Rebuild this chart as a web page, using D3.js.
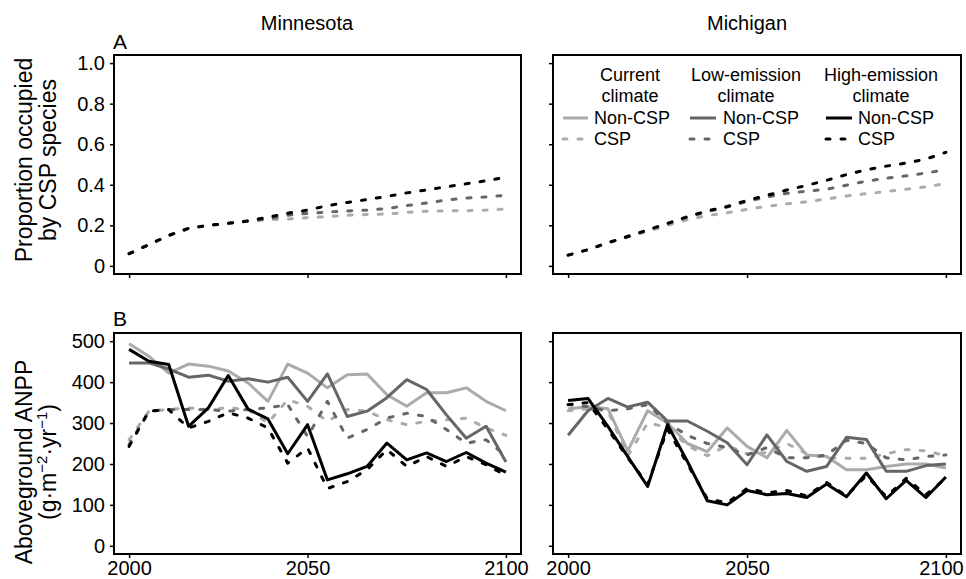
<!DOCTYPE html>
<html>
<head>
<meta charset="utf-8">
<script src="https://cdn.jsdelivr.net/npm/d3@7"></script>
<style>
  body { margin: 0; background: #fff; }
  svg text { font-family: "Liberation Sans", Arial, Helvetica, sans-serif; fill: #000; }
</style>
</head>
<body>
<svg id="chart" width="966" height="579"></svg>
<script>
// time steps (20 model steps), axis labelled at steps 1, 10 and 20
const timeSteps = [1, 2, 3, 4, 5, 6, 7, 8, 9, 10, 11, 12, 13, 14, 15, 16, 17, 18, 19, 20];
const xTickSteps = [1, 10, 20];
const xTickLabels = ["2000", "2050", "2100"];

const propTicks = [0, 0.2, 0.4, 0.6, 0.8, 1.0];
const propTickLabels = ["0", "0.2", "0.4", "0.6", "0.8", "1.0"];
const anppTicks = [0, 100, 200, 300, 400, 500];

const states = ["Minnesota", "Michigan"];
const climates = ["Current", "Low-emission", "High-emission"];

// A: proportion occupied by CSP species
const mnPropCurrent = [0.06, 0.105, 0.15, 0.185, 0.20, 0.21, 0.22, 0.228, 0.231, 0.238, 0.243, 0.25, 0.253, 0.256, 0.264, 0.27, 0.271, 0.272, 0.275, 0.28];
const mnPropLow     = [0.06, 0.105, 0.15, 0.185, 0.20, 0.21, 0.22, 0.232, 0.25, 0.259, 0.265, 0.271, 0.275, 0.283, 0.297, 0.31, 0.325, 0.334, 0.34, 0.348];
const mnPropHigh    = [0.06, 0.105, 0.15, 0.185, 0.20, 0.21, 0.222, 0.24, 0.26, 0.275, 0.297, 0.313, 0.327, 0.343, 0.36, 0.375, 0.39, 0.405, 0.42, 0.437];
const miPropCurrent = [0.053, 0.08, 0.113, 0.142, 0.17, 0.2, 0.228, 0.248, 0.262, 0.279, 0.294, 0.306, 0.316, 0.33, 0.345, 0.356, 0.367, 0.378, 0.39, 0.406];
const miPropLow     = [0.053, 0.08, 0.114, 0.145, 0.177, 0.207, 0.24, 0.268, 0.29, 0.318, 0.34, 0.358, 0.368, 0.378, 0.398, 0.418, 0.432, 0.444, 0.458, 0.475];
const miPropHigh    = [0.053, 0.08, 0.114, 0.145, 0.177, 0.21, 0.243, 0.271, 0.293, 0.323, 0.348, 0.374, 0.397, 0.422, 0.45, 0.474, 0.492, 0.507, 0.527, 0.56];

// B: aboveground ANPP
const mnAnppCurrentNon = [494, 463, 422, 444, 439, 427, 398, 353, 444, 422, 386, 418, 420, 369, 341, 374, 374, 386, 353, 330];
const mnAnppCurrentCsp = [259, 329, 333, 337, 333, 337, 333, 300, 357, 341, 304, 333, 329, 308, 296, 304, 308, 312, 288, 270];
const mnAnppLowNon     = [447, 447, 432, 412, 417, 402, 408, 400, 412, 353, 420, 316, 329, 362, 406, 382, 320, 263, 292, 205];
const mnAnppLowCsp     = [247, 329, 333, 333, 333, 329, 333, 337, 345, 267, 353, 263, 284, 312, 324, 316, 284, 251, 259, 220];
const mnAnppHighNon    = [480, 451, 443, 292, 337, 416, 334, 310, 225, 296, 161, 176, 194, 251, 210, 227, 206, 228, 202, 180];
const mnAnppHighCsp    = [243, 329, 333, 288, 304, 325, 312, 288, 202, 239, 140, 157, 186, 235, 194, 218, 194, 218, 198, 172];

const miAnppCurrentNon = [335, 340, 335, 232, 330, 300, 250, 230, 288, 243, 215, 282, 222, 218, 186, 186, 194, 200, 200, 190];
const miAnppCurrentCsp = [330, 335, 330, 220, 300, 290, 245, 220, 245, 225, 228, 250, 225, 215, 214, 214, 225, 235, 232, 220];
const miAnppLowNon     = [270, 330, 360, 339, 351, 305, 305, 280, 252, 198, 271, 206, 182, 194, 265, 260, 182, 182, 196, 200];
const miAnppLowCsp     = [345, 340, 330, 335, 345, 300, 270, 250, 240, 222, 240, 215, 215, 222, 258, 250, 215, 210, 218, 222];
const miAnppHighNon    = [355, 360, 292, 218, 145, 296, 206, 110, 100, 135, 125, 128, 118, 151, 120, 178, 115, 160, 118, 168];
const miAnppHighCsp    = [345, 350, 285, 215, 150, 285, 200, 115, 105, 140, 130, 135, 122, 155, 122, 172, 120, 165, 125, 165];

const colors = { "Current": "#ababab", "Low-emission": "#666666", "High-emission": "#000000" };
const dash = "4,11";

const svg = d3.select("#chart");

// panel geometry
const colRange = [[114, 521], [553, 961]];
const yProp = d3.scaleLinear().domain([-0.04, 1.04]).range([274, 55]);
const yAnpp = d3.scaleLinear().domain([-20, 520]).range([554, 333]);

const panels = [
  { col: 0, y: yProp, ticks: propTicks, labels: propTickLabels, xLabels: false,
    series: [
      { climate: "Current", csp: true, values: mnPropCurrent },
      { climate: "Low-emission", csp: true, values: mnPropLow },
      { climate: "High-emission", csp: true, values: mnPropHigh }] },
  { col: 1, y: yProp, ticks: propTicks, labels: null, xLabels: false,
    series: [
      { climate: "Current", csp: true, values: miPropCurrent },
      { climate: "Low-emission", csp: true, values: miPropLow },
      { climate: "High-emission", csp: true, values: miPropHigh }] },
  { col: 0, y: yAnpp, ticks: anppTicks, labels: anppTicks.map(String), xLabels: true,
    series: [
      { climate: "Current", csp: false, values: mnAnppCurrentNon },
      { climate: "Current", csp: true, values: mnAnppCurrentCsp },
      { climate: "Low-emission", csp: false, values: mnAnppLowNon },
      { climate: "Low-emission", csp: true, values: mnAnppLowCsp },
      { climate: "High-emission", csp: false, values: mnAnppHighNon },
      { climate: "High-emission", csp: true, values: mnAnppHighCsp }] },
  { col: 1, y: yAnpp, ticks: anppTicks, labels: null, xLabels: true,
    series: [
      { climate: "Current", csp: false, values: miAnppCurrentNon },
      { climate: "Current", csp: true, values: miAnppCurrentCsp },
      { climate: "Low-emission", csp: false, values: miAnppLowNon },
      { climate: "Low-emission", csp: true, values: miAnppLowCsp },
      { climate: "High-emission", csp: false, values: miAnppHighNon },
      { climate: "High-emission", csp: true, values: miAnppHighCsp }] }
];

panels.forEach(p => {
  const x = d3.scaleLinear().domain([0.24, 20.76]).range(colRange[p.col]);
  const [y0, y1] = p.y.range();
  const g = svg.append("g");

  // y axis ticks
  const yAxis = d3.axisLeft(p.y).tickValues(p.ticks).tickSize(4).tickPadding(5)
    .tickFormat((d, i) => p.labels ? p.labels[i] : "");
  const ya = g.append("g").attr("transform", `translate(${x.range()[0]},0)`).call(yAxis);
  ya.select(".domain").remove();
  ya.selectAll("line").attr("stroke", "#000").attr("stroke-width", 1.5);
  ya.selectAll("text").style("font-size", "20px").attr("fill", "#000");

  // x axis ticks
  const xAxis = d3.axisBottom(x).tickValues(xTickSteps).tickSize(4).tickPadding(3)
    .tickFormat((d, i) => p.xLabels ? xTickLabels[i] : "");
  const xa = g.append("g").attr("transform", `translate(0,${y0})`).call(xAxis);
  xa.select(".domain").remove();
  xa.selectAll("line").attr("stroke", "#000").attr("stroke-width", 1.5);
  xa.selectAll("text").style("font-size", "20px").attr("fill", "#000");
  // keep the last label of the right column inside the page
  if (p.col === 1) xa.selectAll("text").filter((d, i) => i === xTickSteps.length - 1).attr("dx", -5);

  // series
  const line = d3.line().x((d, i) => x(timeSteps[i])).y(d => p.y(d));
  p.series.forEach(s => {
    g.append("path")
      .datum(s.values)
      .attr("d", line)
      .attr("fill", "none")
      .attr("stroke", colors[s.climate])
      .attr("stroke-width", 3)
      .attr("stroke-linejoin", "round")
      .attr("stroke-linecap", s.csp ? "round" : "butt")
      .attr("stroke-dasharray", s.csp ? dash : null);
  });

  // frame
  g.append("rect")
    .attr("x", x.range()[0]).attr("y", y1)
    .attr("width", x.range()[1] - x.range()[0]).attr("height", y0 - y1)
    .attr("fill", "none").attr("stroke", "#000").attr("stroke-width", 2);
});

// column titles
svg.append("text").attr("x", 307).attr("y", 30).attr("text-anchor", "middle")
  .style("font-size", "20px").text(states[0]);
svg.append("text").attr("x", 747).attr("y", 30).attr("text-anchor", "middle")
  .style("font-size", "20px").text(states[1]);

// panel letters
svg.append("text").attr("x", 113).attr("y", 49).style("font-size", "21px").text("A");
svg.append("text").attr("x", 113).attr("y", 326).style("font-size", "21px").text("B");

// y titles
const yt1 = svg.append("g").attr("transform", "translate(0,160) rotate(-90)");
yt1.append("text").attr("x", 0).attr("y", 32).attr("text-anchor", "middle")
  .style("font-size", "23px").text("Proportion occupied");
yt1.append("text").attr("x", 0).attr("y", 56).attr("text-anchor", "middle")
  .style("font-size", "23px").text("by CSP species");

const yt2 = svg.append("g").attr("transform", "translate(0,462) rotate(-90)");
yt2.append("text").attr("x", 0).attr("y", 32).attr("text-anchor", "middle")
  .style("font-size", "23px").text("Aboveground ANPP");
const unit = yt2.append("text").attr("x", 0).attr("y", 56).attr("text-anchor", "middle")
  .style("font-size", "23px");
unit.append("tspan").text("(g·m");
unit.append("tspan").attr("dy", -9).style("font-size", "15px").text("−2");
unit.append("tspan").attr("dy", 9).text("·yr");
unit.append("tspan").attr("dy", -9).style("font-size", "15px").text("−1");
unit.append("tspan").attr("dy", 9).text(")");

// legend
const legendCols = [
  { climate: "Current", head: ["Current", "climate"], cx: 630, x0: 563, x1: 588, tx: 594 },
  { climate: "Low-emission", head: ["Low-emission", "climate"], cx: 746, x0: 690, x1: 716, tx: 723 },
  { climate: "High-emission", head: ["High-emission", "climate"], cx: 881, x0: 826, x1: 852, tx: 858 }
];
const leg = svg.append("g").style("font-size", "18px");
legendCols.forEach(c => {
  leg.append("text").attr("x", c.cx).attr("y", 81).attr("text-anchor", "middle").text(c.head[0]);
  leg.append("text").attr("x", c.cx).attr("y", 102).attr("text-anchor", "middle").text(c.head[1]);
  [["Non-CSP", false, 124], ["CSP", true, 145]].forEach(([lab, csp, by]) => {
    leg.append("line")
      .attr("x1", c.x0).attr("x2", c.x1).attr("y1", by - 6).attr("y2", by - 6)
      .attr("stroke", colors[c.climate]).attr("stroke-width", 3)
      .attr("stroke-linecap", csp ? "round" : "butt")
      .attr("stroke-dasharray", csp ? dash : null);
    leg.append("text").attr("x", c.tx).attr("y", by).text(lab);
  });
});
</script>
</body>
</html>
